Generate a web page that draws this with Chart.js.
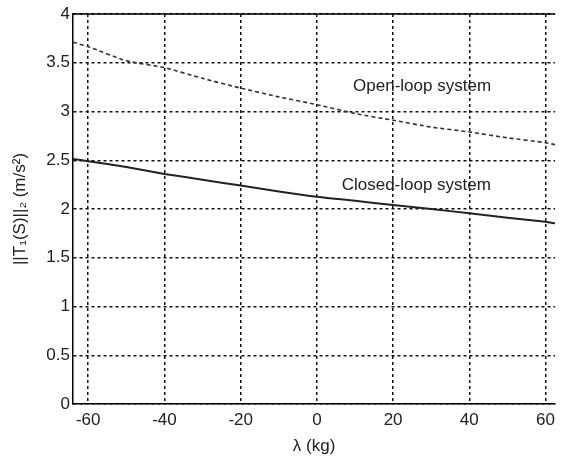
<!DOCTYPE html>
<html>
<head>
<meta charset="utf-8">
<script src="https://cdn.jsdelivr.net/npm/chart.js@4/dist/chart.umd.min.js"></script>
<style>
  html, body { margin: 0; padding: 0; background: #fff; overflow: hidden; }
  #wrap { width: 561px; height: 458px; }
</style>
</head>
<body>
<div id="wrap"><canvas id="normchart"></canvas></div>
<script>
// lambda (kg) and the two H2 norms
const lambdaKg = [-64, -60, -50, -40, -30, -20, -10, 0, 10, 20, 30, 40, 50, 60, 62.5];
const openLoop = [3.71, 3.665, 3.52, 3.45, 3.34, 3.24, 3.15, 3.07, 2.98, 2.91, 2.84, 2.79, 2.73, 2.68, 2.66];
const closedLoop = [2.513, 2.49, 2.43, 2.36, 2.30, 2.24, 2.18, 2.126, 2.085, 2.04, 2.0, 1.956, 1.91, 1.87, 1.853];
const xTicks = [-60, -40, -20, 0, 20, 40, 60];
const yTicks = [0, 0.5, 1, 1.5, 2, 2.5, 3, 3.5, 4];

const textFont = { family: 'Liberation Sans, Arial, sans-serif', size: 17 };

// solid frame line on top, text labels next to the curves
const frameAndLabels = {
    id: 'frameAndLabels',
    afterDraw(chart) {
        const { ctx, chartArea } = chart;
        const xs = chart.scales.x, ys = chart.scales.y;
        ctx.save();
        ctx.strokeStyle = '#000';
        ctx.lineWidth = 1.5;
        ctx.beginPath();
        ctx.moveTo(chartArea.left, chartArea.top);
        ctx.lineTo(chartArea.right, chartArea.top);
        ctx.stroke();

        ctx.fillStyle = '#222';
        ctx.font = '17px Liberation Sans, Arial, sans-serif';
        ctx.textAlign = 'left';
        ctx.textBaseline = 'middle';
        ctx.fillText('Open-loop system', xs.getPixelForValue(9.5), ys.getPixelForValue(3.26));
        ctx.fillText('Closed-loop system', xs.getPixelForValue(6.5), ys.getPixelForValue(2.24));
        ctx.restore();
    }
};

const gridStyle = {
    color: '#111',
    lineWidth: 1.5,
    drawTicks: false
};

new Chart(document.getElementById('normchart'), {
    type: 'line',
    data: {
        datasets: [
            {
                label: 'Open-loop system',
                data: lambdaKg.map((x, i) => ({ x: x, y: openLoop[i] })),
                borderColor: '#333',
                borderWidth: 1.6,
                borderDash: [4, 3],
                pointRadius: 0,
                tension: 0.2
            },
            {
                label: 'Closed-loop system',
                data: lambdaKg.map((x, i) => ({ x: x, y: closedLoop[i] })),
                borderColor: '#222',
                borderWidth: 2,
                pointRadius: 0,
                tension: 0.2
            }
        ]
    },
    options: {
        responsive: true,
        maintainAspectRatio: false,
        animation: false,
        layout: { padding: { top: 14, right: 0, left: 0, bottom: 0 } },
        plugins: {
            legend: { display: false },
            tooltip: { enabled: false }
        },
        scales: {
            x: {
                type: 'linear',
                min: -64,
                max: 62.5,
                afterBuildTicks: s => { s.ticks = xTicks.map(v => ({ value: v })); },
                afterFit: s => { s.height = 54; },
                ticks: { color: '#222', font: textFont, padding: 6, maxRotation: 0 },
                grid: gridStyle,
                border: { display: true, color: '#000', width: 1.5, dash: [3, 3] },
                title: { display: true, text: 'λ (kg)', color: '#222', font: textFont, padding: { top: 0, bottom: 1 } }
            },
            y: {
                min: 0,
                max: 4,
                afterBuildTicks: s => { s.ticks = yTicks.map(v => ({ value: v })); },
                afterFit: s => { s.width = 73; },
                ticks: { color: '#222', font: textFont, padding: 3, callback: v => String(v) },
                grid: gridStyle,
                border: { display: true, color: '#000', width: 1.5, dash: [3, 3] },
                title: { display: true, text: '||T₁(S)||₂ (m/s²)', color: '#222', font: textFont, padding: { top: 10, bottom: 0 } }
            }
        }
    },
    plugins: [frameAndLabels]
});
</script>
</body>
</html>
